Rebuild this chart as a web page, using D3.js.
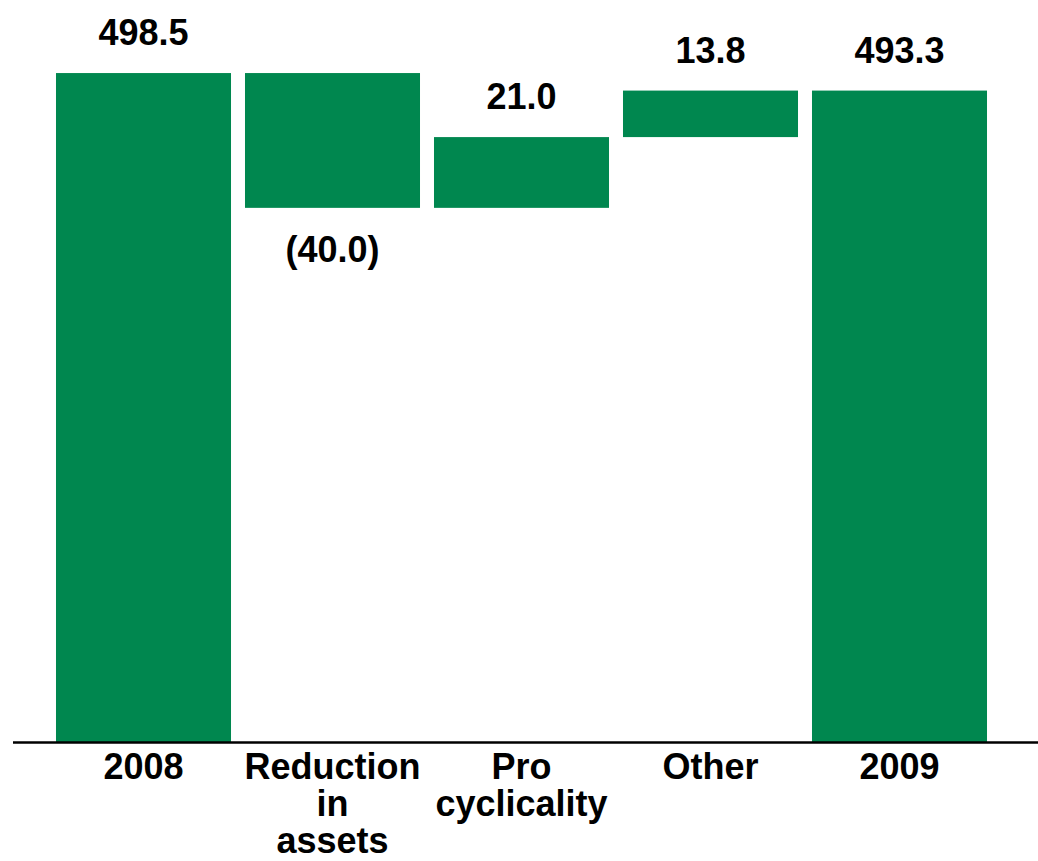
<!DOCTYPE html>
<html>
<head>
<meta charset="utf-8">
<script src="https://cdn.jsdelivr.net/npm/d3@7"></script>
<style>
  html, body { margin: 0; padding: 0; background: #fff; }
  svg { display: block; }
  text { font-family: "Liberation Sans", Arial, sans-serif; font-weight: bold; fill: #000; }
</style>
</head>
<body>
<svg id="chart" width="1038" height="861"></svg>
<script>
// ---- data ----
const categories = ["2008", "Reduction in assets", "Pro cyclicality", "Other", "2009"];
const categoryLines = [["2008"], ["Reduction", "in", "assets"], ["Pro", "cyclicality"], ["Other"], ["2009"]];
const values = [498.5, -40.0, 21.0, 13.8, 493.3];
const kinds = ["total", "delta", "delta", "delta", "total"];
const yDomain = [300, 500];

// ---- layout ----
const W = 1038, H = 861;
const baseY = 742;
const svg = d3.select("#chart");
const green = "#00874F";

const x = d3.scaleBand().domain(categories).range([49, 994]).paddingInner(0.074).paddingOuter(0.037);
const y = d3.scaleLinear().domain(yDomain).range([baseY, 68]);

// build waterfall segments
let running = 0;
const segs = categories.map((c, i) => {
  let lo, hi;
  if (kinds[i] === "total") {
    lo = yDomain[0]; hi = values[i]; running = values[i];
  } else {
    const start = running, end = running + values[i];
    lo = Math.min(start, end); hi = Math.max(start, end); running = end;
  }
  return { cat: c, v: values[i], kind: kinds[i], lo, hi };
});

svg.selectAll("rect.bar").data(segs).join("rect")
  .attr("class", "bar")
  .attr("x", d => x(d.cat))
  .attr("width", x.bandwidth())
  .attr("y", d => y(d.hi))
  .attr("height", d => y(d.lo) - y(d.hi))
  .attr("fill", green);

// value labels
const fmt = d3.format(".1f");
svg.selectAll("text.val").data(segs).join("text")
  .attr("class", "val")
  .attr("x", d => x(d.cat) + x.bandwidth() / 2)
  .attr("y", d => d.v < 0 ? y(d.lo) + 54 : y(d.hi) - 28)
  .attr("text-anchor", "middle")
  .attr("font-size", 36)
  .text(d => d.v < 0 ? "(" + fmt(-d.v) + ")" : fmt(d.v));

// baseline
svg.append("line")
  .attr("x1", 13).attr("x2", W)
  .attr("y1", baseY + 0.5).attr("y2", baseY + 0.5)
  .attr("stroke", "#000").attr("stroke-width", 2.5);

// category labels
const cl = svg.selectAll("text.cat").data(categories).join("text")
  .attr("class", "cat")
  .attr("text-anchor", "middle")
  .attr("font-size", 36);
cl.each(function(c, i) {
  const t = d3.select(this);
  categoryLines[i].forEach((ln, j) => {
    t.append("tspan")
      .attr("x", x(c) + x.bandwidth() / 2)
      .attr("y", 779 + j * 37)
      .text(ln);
  });
});
</script>
</body>
</html>
